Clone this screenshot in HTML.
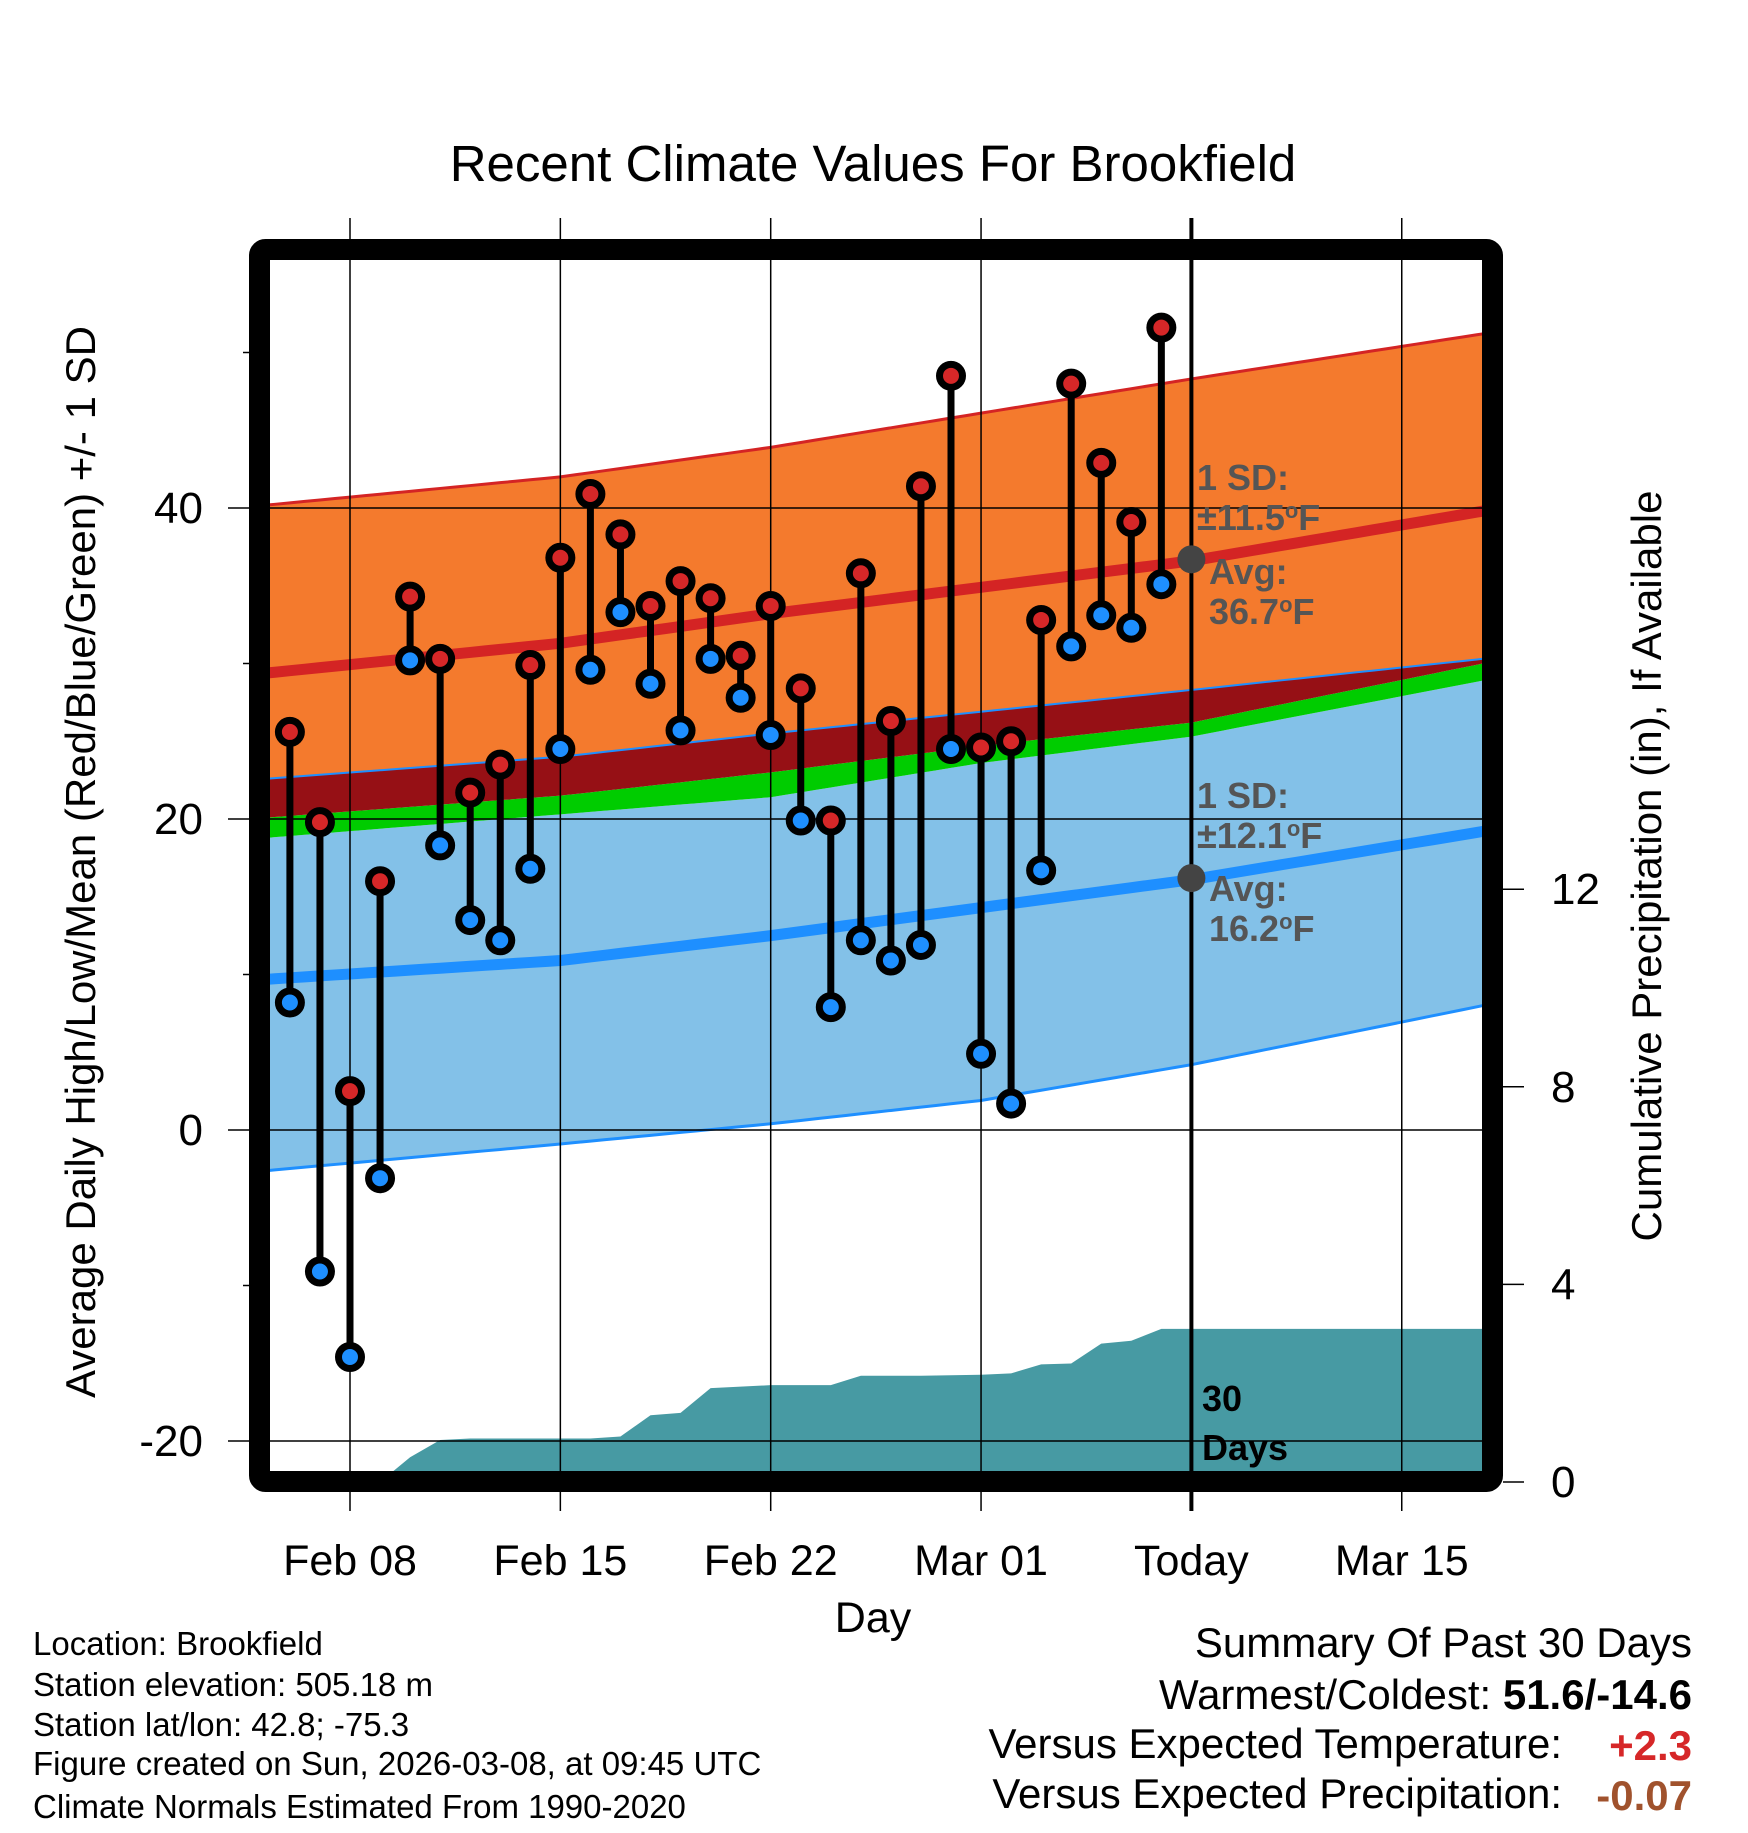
<!DOCTYPE html>
<html><head><meta charset="utf-8"><style>
body{margin:0;background:#fff}
svg text{font-family:"Liberation Sans",Arial,sans-serif}
</style></head><body>
<svg id="chart" width="1748" height="1828" viewBox="0 0 1748 1828" xmlns="http://www.w3.org/2000/svg">
<defs><clipPath id="plotclip"><rect x="270" y="260" width="1212" height="1211"/></clipPath></defs>
<g id="grid"></g>
<g id="plot" clip-path="url(#plotclip)"></g>
<g id="over"></g>
<rect x="259.5" y="249.5" width="1233" height="1232" fill="none" stroke="#000" stroke-width="21" rx="6"/>
<text x="873" y="181" font-size="51" text-anchor="middle">Recent Climate Values For Brookfield</text>
<text x="873" y="1632" font-size="43" text-anchor="middle">Day</text>
<text transform="translate(95,862) rotate(-90)" font-size="42" text-anchor="middle">Average Daily High/Low/Mean (Red/Blue/Green) +/- 1 SD</text>
<text transform="translate(1661,866) rotate(-90)" font-size="42" text-anchor="middle">Cumulative Precipitation (in), If Available</text>
<g font-size="33">
<text x="33" y="1655">Location: Brookfield</text>
<text x="33" y="1696">Station elevation: 505.18 m</text>
<text x="33" y="1736">Station lat/lon: 42.8; -75.3</text>
<text x="33" y="1775">Figure created on Sun, 2026-03-08, at 09:45 UTC</text>
<text x="33" y="1818">Climate Normals Estimated From 1990-2020</text>
</g>
<g font-size="42">
<text x="1692" y="1657" text-anchor="end">Summary Of Past 30 Days</text>
<text x="1692" y="1709" text-anchor="end">Warmest/Coldest: <tspan font-weight="bold">51.6/-14.6</tspan></text>
<text x="1562" y="1758" text-anchor="end">Versus Expected Temperature:</text>
<text x="1692" y="1760" text-anchor="end" font-weight="bold" fill="#d62728">+2.3</text>
<text x="1562" y="1808" text-anchor="end">Versus Expected Precipitation:</text>
<text x="1692" y="1810" text-anchor="end" font-weight="bold" fill="#a0522d">-0.07</text>
</g>
</svg>
<script>
const dayLabels = ["Feb 06","Feb 07","Feb 08","Feb 09","Feb 10","Feb 11","Feb 12","Feb 13","Feb 14","Feb 15","Feb 16","Feb 17","Feb 18","Feb 19","Feb 20","Feb 21","Feb 22","Feb 23","Feb 24","Feb 25","Feb 26","Feb 27","Feb 28","Mar 01","Mar 02","Mar 03","Mar 04","Mar 05","Mar 06","Mar 07"];
const highs = [25.6,19.8,2.5,16.0,34.3,30.3,21.7,23.5,29.9,36.8,40.9,38.3,33.7,35.3,34.2,30.5,33.7,28.4,19.9,35.8,26.3,41.4,48.5,24.6,25.0,32.8,48.0,42.9,39.1,51.6];
const lows = [8.2,-9.1,-14.6,-3.1,30.2,18.3,13.5,12.2,16.8,24.5,29.6,33.3,28.7,25.7,30.3,27.8,25.4,19.9,7.9,12.2,10.9,11.9,24.5,4.9,1.7,16.7,31.1,33.1,32.3,35.1];
const precip = [0,0,0,0,0.5,0.85,0.88,0.88,0.88,0.88,0.88,0.92,1.35,1.4,1.9,1.93,1.96,1.96,1.96,2.15,2.15,2.15,2.16,2.17,2.2,2.38,2.4,2.8,2.86,3.1];
const normDays = [-2.7,7,14,21,28,37.7];
const hiUpper = [40.2,42.0,43.9,46.1,48.3,51.2];
const hiMean = [29.4,31.3,33.2,34.9,36.6,39.8];
const hiLower = [22.6,24.0,25.5,26.9,28.3,30.3];
const meanTop = [20.1,21.5,23.0,24.7,26.2,30.0];
const meanBot = [18.8,20.3,21.4,23.6,25.3,28.9];
const loMean = [9.7,10.9,12.5,14.3,16.1,19.2];
const loLower = [-2.6,-0.9,0.4,1.9,4.2,8.0];
const xTickDays = [0,7,14,21,28,35];
const xTickLabels = ["Feb 08","Feb 15","Feb 22","Mar 01","Today","Mar 15"];
const yTicks = [40,20,0,-20];
const yMinor = [50,30,10,-10];
const pTicks = [0,4,8,12];
const firstDay = -2;
const todayDay = 28;

const X = d => 350 + d*30.05;
const Y = t => 508 - (t-40)*15.55;
const P = p => 1482 - p*49.4;
const NS = "http://www.w3.org/2000/svg";
const plot = document.getElementById('plot');
const over = document.getElementById('over');
const grid = document.getElementById('grid');
const svg = document.getElementById('chart');
function mk(tag, parent, attrs){const e=document.createElementNS(NS,tag);for(const k in attrs)e.setAttribute(k,attrs[k]);parent.appendChild(e);return e;}
function smooth(arr){
  const pts=[];for(let d=-3;d<=38.5;d+=0.5){let i=0;while(i<normDays.length-2&&d>normDays[i+1])i++;const t=(d-normDays[i])/(normDays[i+1]-normDays[i]);pts.push([X(d),Y(arr[i]+t*(arr[i+1]-arr[i]))]);}return pts;}
function band(a,b,fill,name){const p1=smooth(a),p2=smooth(b).reverse();const el=mk('polygon',plot,{points:p1.concat(p2).map(p=>p.join(',')).join(' '),fill:fill});

}
function line(a,color,w,name){const el=mk('polyline',plot,{points:smooth(a).map(p=>p.join(',')).join(' '),fill:'none',stroke:color,'stroke-width':w});

}
band(loLower,meanBot,'#83c1e8','low-sd-band');
band(meanBot,meanTop,'#00cc00','mean-band');
band(meanTop,hiLower,'#961015','overlap-band');
band(hiLower,hiUpper,'#f47a2d','high-sd-band');
line(hiUpper,'#d42424',3,'high-upper-line');
line(hiLower,'#1e8fff',2,'high-lower-line');
line(loLower,'#1e8fff',3,'low-lower-line');
line(hiMean,'#d42424',11,'mean-high-line');
line(loMean,'#1e8fff',11,'mean-low-line');
let pp=[[X(firstDay),P(0)]];
precip.forEach((v,i)=>pp.push([X(firstDay+i),P(v)]));
pp.push([X(38.5),P(precip[precip.length-1])],[X(38.5),P(0)]);
const pa=mk('polygon',plot,{points:pp.map(p=>p.join(',')).join(' '),fill:'#479aa3'});


const gl=document.createElementNS(NS,'g');svg.insertBefore(gl,over);
yTicks.forEach(t=>{const g=mk('line',gl,{x1:228,x2:1482,y1:Y(t),y2:Y(t),stroke:'#000','stroke-width':1.5});


const tx=mk('text',svg,{x:203,y:Y(t)+15,'font-size':44,'text-anchor':'end'});tx.textContent=t;

});
yMinor.forEach(t=>{const g=mk('line',svg,{x1:243,x2:250,y1:Y(t),y2:Y(t),stroke:'#000','stroke-width':1.5});

});
xTickDays.forEach((d,i)=>{const g=mk('line',gl,{x1:X(d),x2:X(d),y1:218,y2:1511,stroke:'#000','stroke-width':d===todayDay?4:1.5});


const tx=mk('text',svg,{x:X(d),y:1575,'font-size':43,'text-anchor':'middle'});tx.textContent=xTickLabels[i];

});
pTicks.forEach(p=>{const g=mk('line',svg,{x1:1503,x2:1524,y1:P(p),y2:P(p),stroke:'#000','stroke-width':1.5});


const tx=mk('text',svg,{x:1551,y:P(p)+15,'font-size':44});tx.textContent=p;

});
highs.forEach((h,i)=>{const x=X(firstDay+i);
const s=mk('line',over,{x1:x,x2:x,y1:Y(h),y2:Y(lows[i]),stroke:'#000','stroke-width':7});

});
highs.forEach((h,i)=>{const x=X(firstDay+i);
const c1=mk('circle',over,{cx:x,cy:Y(h),r:11.5,fill:'#d62728',stroke:'#000','stroke-width':7});


const c2=mk('circle',over,{cx:x,cy:Y(lows[i]),r:11.5,fill:'#1e8fff',stroke:'#000','stroke-width':7});

});
[[36.7,'avg-high-dot'],[16.2,'avg-low-dot']].forEach(a=>{const c=mk('circle',over,{cx:X(todayDay),cy:Y(a[0]),r:14,fill:'#444'});

});
function ann(x,y,txt,fill,name){const t=mk('text',over,{x:x,y:y,'font-size':36,'font-weight':'bold',fill:fill});t.innerHTML=txt;

}
ann(1197,490,'1 SD:','#555','high-sd-label');
ann(1197,530,'±11.5<tspan dy="-12" font-size="22">o</tspan><tspan dy="12">F</tspan>','#555','high-sd-value');
ann(1209,584,'Avg:','#555','high-avg-label');
ann(1209,624,' 36.7<tspan dy="-12" font-size="22">o</tspan><tspan dy="12">F</tspan>','#555','high-avg-value');
ann(1197,808,'1 SD:','#555','low-sd-label');
ann(1197,848,'±12.1<tspan dy="-12" font-size="22">o</tspan><tspan dy="12">F</tspan>','#555','low-sd-value');
ann(1209,901,'Avg:','#555','low-avg-label');
ann(1209,941,' 16.2<tspan dy="-12" font-size="22">o</tspan><tspan dy="12">F</tspan>','#555','low-avg-value');
ann(1202,1411,'30','#000','days-count-label');
ann(1202,1460,'Days','#000','days-label');
</script>
</body></html>
